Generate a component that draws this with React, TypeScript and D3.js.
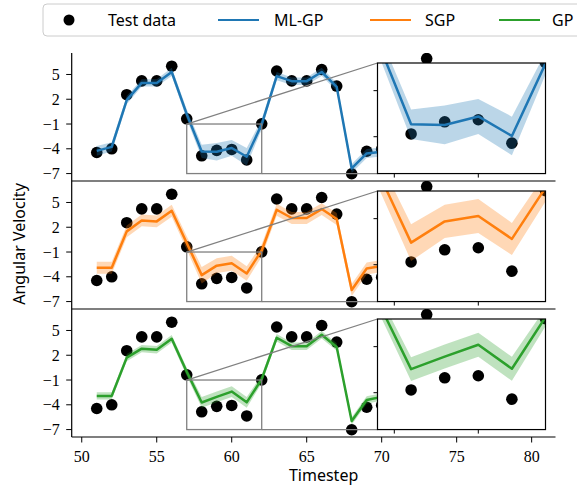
import React from 'react';
import * as d3 from 'd3';

const timesteps = [51, 52, 53, 54, 55, 56, 57, 58, 59, 60, 61, 62, 63, 64, 65, 66, 67, 68, 69, 70, 71, 72, 73, 74, 75, 76, 77, 78, 79, 80];
const testData = [-4.45, -4.0, 2.55, 4.22, 4.22, 6.0, -0.37, -4.85, -4.19, -4.08, -5.35, -0.98, 5.42, 4.22, 4.22, 5.6, 3.6, -7.02, -4.3, -4.05, -4.3, -0.6, 6.92, 4.4, 4.3, 5.5, 3.5, -5.5, -4.2, -4.0];

const mlgpMean = [-4.25, -3.77, 1.89, 3.98, 3.98, 5.3, 0.2, -4.32, -4.36, -3.9, -4.96, -1.03, 4.8, 4.19, 4.19, 5.3, 3.5, -6.38, -4.56, -4.37, -4.2, -0.8, 5.8, 4.3, 4.2, 5.2, 3.3, -5.0, -4.2, -4.0];
const mlgpStd = [0.6, 0.55, 0.5, 0.45, 0.45, 0.5, 0.6, 0.8, 1.05, 0.95, 1.05, 0.6, 0.5, 0.45, 0.45, 0.5, 0.5, 0.55, 0.55, 0.55, 0.5, 0.5, 0.5, 0.5, 0.5, 0.5, 0.5, 0.5, 0.5, 0.5];

const sgpMean = [-2.9, -2.9, 1.5, 2.83, 2.71, 4.0, 0.1, -3.8, -2.65, -2.36, -3.6, -0.82, 4.12, 3.12, 3.12, 4.2, 3.0, -5.6, -3.0, -2.7, -3.0, -0.9, 4.2, 3.2, 3.1, 4.0, 2.8, -4.0, -3.0, -2.8];
const sgpStd = [0.72, 0.72, 0.72, 0.72, 0.72, 0.72, 0.8, 1.0, 0.9, 0.92, 0.87, 0.75, 0.72, 0.72, 0.72, 0.72, 0.72, 0.72, 0.72, 0.72, 0.72, 0.72, 0.72, 0.72, 0.72, 0.72, 0.72, 0.72, 0.72, 0.72];

const gpMean = [-2.92, -2.92, 1.71, 2.8, 2.67, 4.0, 0.0, -3.72, -3.04, -2.4, -3.7, -0.9, 4.12, 3.1, 3.1, 4.48, 2.99, -5.96, -3.43, -3.04, -3.2, -0.9, 4.3, 3.2, 3.1, 4.2, 2.9, -4.2, -3.2, -3.0];
const gpStd = [0.45, 0.45, 0.45, 0.45, 0.45, 0.45, 0.5, 0.65, 0.65, 0.65, 0.65, 0.5, 0.45, 0.45, 0.45, 0.45, 0.45, 0.45, 0.45, 0.45, 0.45, 0.45, 0.45, 0.45, 0.45, 0.45, 0.45, 0.45, 0.45, 0.45];

const xTicks = [50, 55, 60, 65, 70, 75, 80];
const yTicks = [5, 2, -1, -4, -7];
const insetXTicks = [57.5, 60];
const insetYTicks = [-2.5, -5];
const insetXDomain = [57, 62];
const insetYDomain = [-7, -1];
const legendLabels = ['Test data', 'ML-GP', 'SGP', 'GP'];
const seriesColors = ['#1f77b4', '#ff7f0e', '#2ca02c'];

const W = 577;
const H = 488;
const PLOT_LEFT = 71.7;
const PLOT_RIGHT = 555.5;
const PANEL_H = 128;
const PANEL_TOPS = [53, 181, 309];
const INSET_LEFT = 377.5;
const INSET_RIGHT = 545.5;

const x = d3.scaleLinear().domain([49.33, 81.59]).range([PLOT_LEFT, PLOT_RIGHT]);

const fmt = (v: number) => (v < 0 ? '\u2212' + Math.abs(v) : String(v));

const serif = "'Liberation Serif', 'DejaVu Serif', serif";
const sans = "'Noto Sans', 'DejaVu Sans', sans-serif";

type PanelProps = { idx: number; mean: number[]; std: number[]; color: string; showX: boolean };

function Panel({ idx, mean, std, color, showX }: PanelProps) {
  const top = PANEL_TOPS[idx];
  const y = d3.scaleLinear().domain([-7.9, 7.6]).range([top + PANEL_H, top]);
  const insetTop = top + 10;
  const insetBottom = y(-7);
  const xi = d3.scaleLinear().domain(insetXDomain).range([INSET_LEFT, INSET_RIGHT]);
  const yi = d3.scaleLinear().domain(insetYDomain).range([insetBottom, insetTop]);

  const idxs = timesteps.map((_, i) => i);
  const areaMain = d3.area<number>().x((i) => x(timesteps[i])).y0((i) => y(mean[i] - std[i])).y1((i) => y(mean[i] + std[i]));
  const lineMain = d3.line<number>().x((i) => x(timesteps[i])).y((i) => y(mean[i]));
  const areaIn = d3.area<number>().x((i) => xi(timesteps[i])).y0((i) => yi(mean[i] - std[i])).y1((i) => yi(mean[i] + std[i]));
  const lineIn = d3.line<number>().x((i) => xi(timesteps[i])).y((i) => yi(mean[i]));

  const clipMain = `clipMain${idx}`;
  const clipIn = `clipIn${idx}`;
  const r = 5.8;

  return (
    <g>
      <defs>
        <clipPath id={clipMain}>
          <rect x={PLOT_LEFT} y={top} width={PLOT_RIGHT - PLOT_LEFT} height={PANEL_H} />
        </clipPath>
        <clipPath id={clipIn}>
          <rect x={INSET_LEFT} y={insetTop} width={INSET_RIGHT - INSET_LEFT} height={insetBottom - insetTop} />
        </clipPath>
      </defs>
      <g clipPath={`url(#${clipMain})`}>
        {timesteps.map((t, i) => (
          <circle key={i} cx={x(t)} cy={y(testData[i])} r={r} fill="#000" />
        ))}
        <path d={areaMain(idxs) || ''} fill={color} fillOpacity={0.3} stroke="none" />
        <path d={lineMain(idxs) || ''} fill="none" stroke={color} strokeWidth={2.5} strokeLinejoin="round" />
      </g>
      <rect x={x(insetXDomain[0])} y={y(insetYDomain[1])} width={x(insetXDomain[1]) - x(insetXDomain[0])} height={y(insetYDomain[0]) - y(insetYDomain[1])} fill="none" stroke="#808080" strokeWidth={1.3} />
      <line x1={x(insetXDomain[0])} y1={y(insetYDomain[1])} x2={INSET_LEFT} y2={insetTop} stroke="#808080" strokeWidth={1.3} />
      <line x1={x(insetXDomain[1])} y1={y(insetYDomain[0])} x2={INSET_LEFT} y2={insetBottom} stroke="#808080" strokeWidth={1.3} />
      <rect x={INSET_LEFT} y={insetTop} width={INSET_RIGHT - INSET_LEFT} height={insetBottom - insetTop} fill="#fff" />
      <g clipPath={`url(#${clipIn})`}>
        {timesteps.map((t, i) => (
          <circle key={i} cx={xi(t)} cy={yi(testData[i])} r={r} fill="#000" />
        ))}
        <path d={areaIn(idxs) || ''} fill={color} fillOpacity={0.3} stroke="none" />
        <path d={lineIn(idxs) || ''} fill="none" stroke={color} strokeWidth={2.5} strokeLinejoin="round" />
      </g>
      <rect x={INSET_LEFT} y={insetTop} width={INSET_RIGHT - INSET_LEFT} height={insetBottom - insetTop} fill="none" stroke="#000" strokeWidth={1.2} />
      {insetXTicks.map((t) => (
        <line key={'ixt' + t} x1={xi(t)} x2={xi(t)} y1={insetBottom} y2={insetBottom + 4} stroke="#000" strokeWidth={1} />
      ))}
      {insetYTicks.map((v) => (
        <line key={'iyt' + v} x1={INSET_LEFT - 4} x2={INSET_LEFT} y1={yi(v)} y2={yi(v)} stroke="#000" strokeWidth={1} />
      ))}
      <line x1={PLOT_LEFT} x2={PLOT_LEFT} y1={top} y2={top + PANEL_H} stroke="#000" strokeWidth={1.2} />
      <line x1={PLOT_LEFT} x2={PLOT_RIGHT} y1={top + PANEL_H} y2={top + PANEL_H} stroke="#000" strokeWidth={1.2} />
      {yTicks.map((v) => (
        <g key={'yt' + v}>
          <line x1={PLOT_LEFT - 5.5} x2={PLOT_LEFT} y1={y(v)} y2={y(v)} stroke="#000" strokeWidth={1} />
          <text x={PLOT_LEFT - 12} y={y(v)} dy="0.35em" textAnchor="end" fontFamily={serif} fontSize={16} fill="#000">
            {fmt(v)}
          </text>
        </g>
      ))}
      {showX &&
        xTicks.map((t) => (
          <g key={'xt' + t}>
            <line x1={x(t)} x2={x(t)} y1={top + PANEL_H} y2={top + PANEL_H + 5.5} stroke="#000" strokeWidth={1} />
            <text x={x(t)} y={top + PANEL_H + 25} textAnchor="middle" fontFamily={serif} fontSize={16} fill="#000">
              {fmt(t)}
            </text>
          </g>
        ))}
    </g>
  );
}

export default function App() {
  const means = [mlgpMean, sgpMean, gpMean];
  const stds = [mlgpStd, sgpStd, gpStd];
  const legendLineX = [218, 370, 499];
  const legendTextX = [274, 425, 552];
  return (
    <svg width={W} height={H} style={{ position: 'absolute', left: 0, top: 0, background: '#fff' }}>
      <rect x={0} y={0} width={W} height={H} fill="#fff" />
      {means.map((m, i) => (
        <Panel key={i} idx={i} mean={m} std={stds[i]} color={seriesColors[i]} showX={i === 2} />
      ))}
      <rect x={43} y={4} width={560} height={32} rx={4} ry={4} fill="#fff" fillOpacity={0.85} stroke="#cccccc" strokeWidth={1} />
      <circle cx={69} cy={20} r={5.5} fill="#000" />
      <text x={108} y={20} dy="0.35em" fontFamily={sans} fontSize={16} fill="#000">{legendLabels[0]}</text>
      {seriesColors.map((c, i) => (
        <g key={'lg' + i}>
          <line x1={legendLineX[i]} x2={legendLineX[i] + 41} y1={20} y2={20} stroke={c} strokeWidth={2} />
          <text x={legendTextX[i]} y={20} dy="0.35em" fontFamily={sans} fontSize={16} fill="#000">{legendLabels[i + 1]}</text>
        </g>
      ))}
      <text x={(PLOT_LEFT + PLOT_RIGHT) / 2 + 10} y={481} textAnchor="middle" fontFamily={sans} fontSize={16} fill="#000">Timestep</text>
      <text transform={`translate(25, 244) rotate(-90)`} textAnchor="middle" fontFamily={sans} fontSize={16} fill="#000">Angular Velocity</text>
    </svg>
  );
}
